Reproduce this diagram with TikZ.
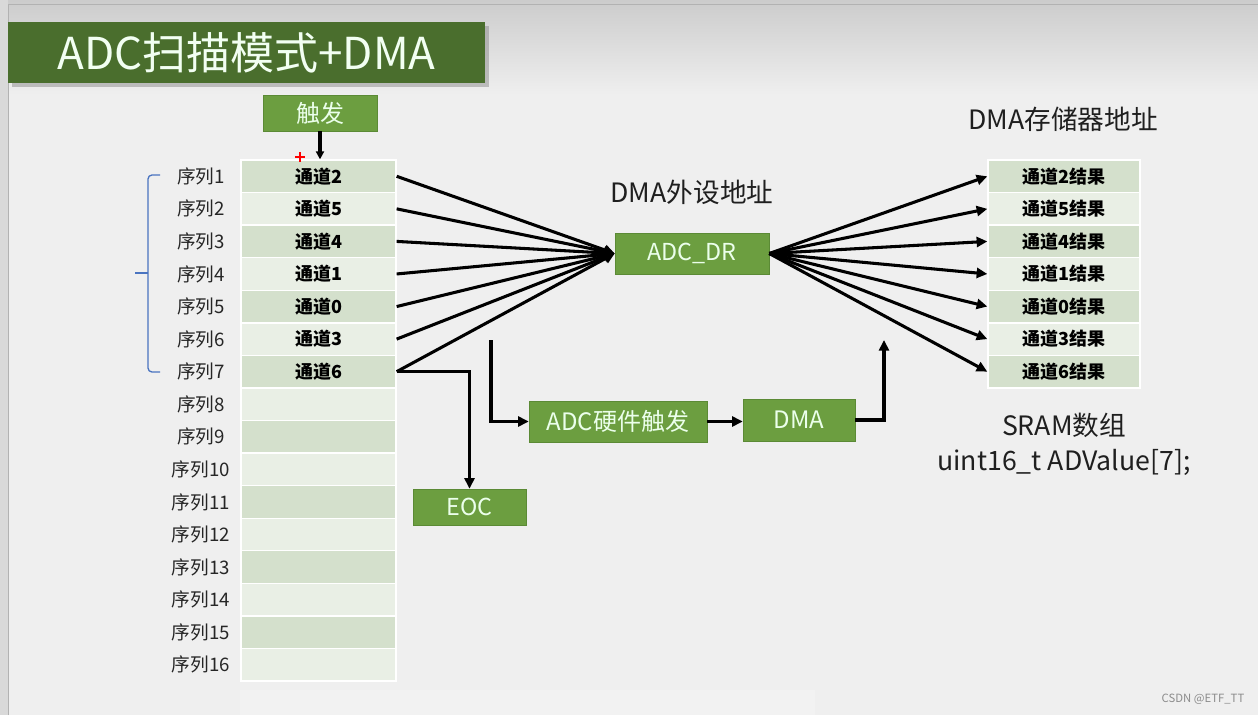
\documentclass[tikz,border=0pt]{standalone}
\usepackage{fontspec}
\setmainfont{Noto Sans CJK SC}
\usetikzlibrary{arrows.meta}

\definecolor{bgGray}{HTML}{EFEFEF}
\definecolor{titleGreen}{HTML}{4A6E2D}
\definecolor{boxGreen}{HTML}{6C9E40}
\definecolor{boxEdge}{HTML}{5B8A35}
\definecolor{cellA}{HTML}{D4E0CC}
\definecolor{cellB}{HTML}{E9EFE5}
\definecolor{braceBlue}{HTML}{4A74C0}

\begin{document}
\begin{tikzpicture}[x=0.75pt,y=0.75pt,yscale=-1,xscale=1,
  gbox/.style={draw=boxEdge,fill=boxGreen,text=white!92!green,inner sep=0pt,font=\fontsize{18}{20}\selectfont},
  cell/.style={draw=white,line width=1pt,inner sep=0pt,minimum height=24.4pt,font=\fontsize{13.5}{15}\selectfont\bfseries},
  chtxt/.style={inner sep=0pt,font=\fontsize{13.5}{15}\selectfont\bfseries},
  seq/.style={inner sep=0pt,font=\fontsize{14}{16}\selectfont,text=black!85},
  lbl/.style={inner sep=0pt,font=\fontsize{20}{26}\selectfont,text=black!88,align=center},
  flow/.style={line width=2.3pt,-{Triangle[length=8pt,width=7.5pt]}}]
\useasboundingbox (0,0) rectangle (1258,715);

%Background
\fill [bgGray] (0,0) rectangle (1258,715);
\shade [top color=black!20,bottom color=bgGray] (0,0) rectangle (1258,95);
\fill [black!15] (0,0) rectangle (8,715);
\draw [black!30,line width=0.75pt] (8,715) -- (8,4) -- (1258,4);
%blurred strip at the bottom
\fill [black!5] (240,690) rectangle (815,715);

%Title bar
\fill [black!45,opacity=0.5] (12,26) rectangle (489,87);
\node (title) [fill=titleGreen,text=white!95!green,minimum width=357.75pt,minimum height=45.75pt,inner sep=0pt,font=\fontsize{33}{36}\selectfont] at (246.5,52.5) {ADC扫描模式+DMA};

%Trigger
\node (trig) [gbox,minimum width=85.5pt,minimum height=27pt] at (320,113) {触发};

%Left table
\foreach \i in {1,...,16}{
  \ifodd\i \def\cc{cellA}\else\def\cc{cellB}\fi
  \node (c\i) [cell,fill=\cc,minimum width=116.25pt] at (318.5,{160+32.5625*(\i-0.5)}) {};
  \node (s\i) [seq] at (201,{160+32.5625*(\i-0.5)}) {序列\i};
}
\foreach \i/\ch in {1/2,2/5,3/4,4/1,5/0,6/3,7/6}
  \node (t\i) [chtxt] at (c\i) {通道\ch};

%Right table
\foreach \i/\ch in {1/2,2/5,3/4,4/1,5/0,6/3,7/6}{
  \ifodd\i \def\cc{cellA}\else\def\cc{cellB}\fi
  \node (r\i) [cell,fill=\cc,minimum width=114pt] at (1064,{160+32.5625*(\i-0.5)}) {通道\ch 结果};
}

%Blue bracket
\draw [braceBlue,line width=1pt,rounded corners=3pt] (160,175) -- (148,175) -- (148,372) -- (160,372);
\draw [braceBlue,line width=1pt] (148,273) -- (135,273);

%Red plus
\draw [red,line width=1.5pt] (295,157) -- (305,157) (300,152) -- (300,162);

%Middle boxes
\node (dr) [gbox,minimum width=115.5pt,minimum height=30.75pt,font=\fontsize{17.5}{20}\selectfont] at (692,253.5) {ADC\_DR};
\node (eoc) [gbox,minimum width=84.75pt,minimum height=27pt,font=\fontsize{17.5}{20}\selectfont] at (469.5,507) {EOC};
\node (hw) [gbox,minimum width=133.5pt,minimum height=30.75pt] at (618,421.5) {ADC硬件触发};
\node (dma) [gbox,minimum width=84pt,minimum height=31.5pt] at (799,420) {DMA};

% Text Node
\node (perAddr) [lbl] at (692,192) {DMA外设地址};
% Text Node
\node (memAddr) [lbl] at (1063,119) {DMA存储器地址};
% Text Node
\node (sram) [lbl] at (1064,444) {SRAM数组\\uint16\_t ADValue[7];};
% Text Node
\node (mark) [inner sep=0pt,text=black!45,font=\fontsize{8.5}{10}\selectfont] at (1203,699) {CSDN @ETF\_TT};

%Arrows
\draw [flow,-{Triangle[length=6pt,width=6pt]}] (trig.south) -- (trig.south |- c1.north);
\foreach \i in {1,...,7}{
  \draw [flow] (c\i.east) -- (dr.west);
  \draw [flow] (dr.east) -- (r\i.west);
}
\draw [flow] (c7.east) -| (eoc.north);
\coordinate (hwIn) at (491,340);
\coordinate (dmaOut) at (884,340);
\draw [flow] (hwIn) |- (hw.west);
\draw [flow] (hw.east) -- (hw.east -| dma.west);
\draw [flow] (dma.east) -| (dmaOut);

\end{tikzpicture}
\end{document}
